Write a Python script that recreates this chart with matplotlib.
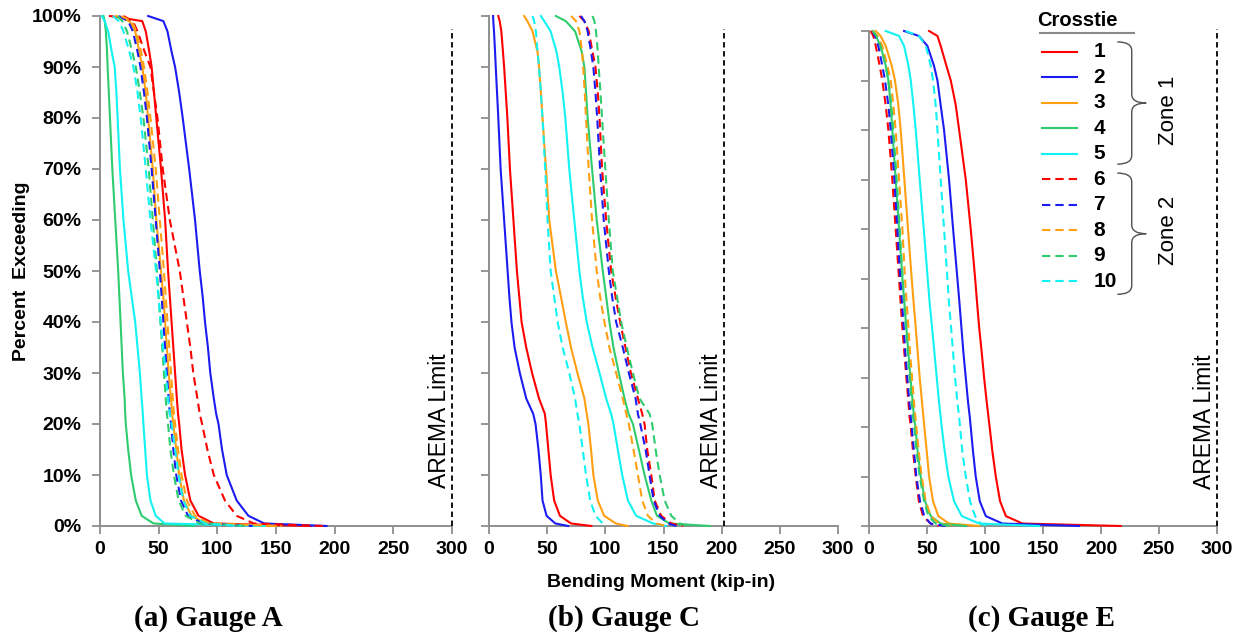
import matplotlib
matplotlib.use("Agg")
import matplotlib.pyplot as plt
from matplotlib.path import Path
from matplotlib.patches import PathPatch

plt.rcParams['font.family'] = ['Liberation Sans', 'DejaVu Sans']

# Percent of loading events exceeding a given bending moment
pct_levels = [100, 99, 97, 93, 90, 85, 80, 70, 60, 50, 45, 40, 35, 30, 25,
              22, 20, 15, 10, 5, 2, 0.5, 0]

crossties = ['1', '2', '3', '4', '5', '6', '7', '8', '9', '10']
tie_colors = ['#FF0000', '#1C1CF2', '#FF9F12', '#2ECC6E', '#12F2F2',
              '#FF0000', '#1C1CF2', '#FF9F12', '#2ECC6E', '#12F2F2']
tie_dashed = [False] * 5 + [True] * 5

# Bending moment (kip-in) at each percent level, crossties 1-10
gauge_a = [
    [8.5, 36, 39, 42, 44, 46, 48, 52, 55.5, 58, 59.5, 61, 62.5, 64, 65.5, 66.5, 67.5, 69.5, 72.5, 77, 84, 97, 180],
    [41, 54, 57.5, 61, 64, 67.5, 70.5, 76, 81, 85, 87.5, 89.5, 92, 94, 97, 99, 101, 104, 108, 116.5, 126.5, 140, 193],
    [14, 25, 30, 33.5, 36, 39, 41, 45, 48, 52, 54, 55.5, 57, 58.5, 60.5, 61.5, 62.5, 65, 67.5, 71.5, 78, 90, 150],
    [3, 4, 5, 6, 6.5, 7.5, 8.5, 10.5, 13, 15.5, 16.5, 17.5, 18.5, 19.5, 21, 21.5, 22, 24, 26.5, 30.5, 35.5, 45.5, 80],
    [1.5, 4, 7, 10, 12.5, 14, 15, 17, 20, 24, 27, 30, 32, 34, 35.5, 36.5, 37, 38.5, 40, 43, 47.5, 55, 140],
    [20, 28, 32, 38, 43, 46, 49, 53.5, 59.5, 68, 71, 74, 77, 79.5, 83, 85, 87, 91.5, 97, 106.5, 116.5, 131, 190],
    [16, 24, 28, 32, 34.5, 37.5, 40, 44, 47.5, 51, 52.5, 54, 55.5, 57, 58.5, 59.5, 60.5, 62.5, 65, 69, 75, 88, 130],
    [18, 27, 31, 35, 37.5, 40.5, 43, 47.5, 51, 54.5, 56, 57.5, 59, 60.5, 62, 63, 64, 66.5, 69.5, 74, 81, 93, 155],
    [15, 19, 23, 27.5, 30.5, 34, 37, 41.5, 45, 48.5, 50, 51.5, 53, 54.5, 56, 57, 58, 60, 63, 67, 73, 85, 125],
    [11, 16, 20, 25, 28.5, 32, 34.7, 39, 43, 47.8, 49.7, 51.7, 53.8, 56, 58, 59.5, 61, 64, 67, 71, 77, 90, 120],
]
gauge_c = [
    [8, 9.2, 10.6, 12, 13, 14.4, 15.8, 18, 21, 24, 26, 28, 32, 37, 43, 48, 49, 51, 53, 56, 61, 70.5, 88],
    [3.5, 3.7, 4.3, 5.2, 5.8, 6.9, 8, 10, 13, 16, 17.5, 19.3, 22, 26.5, 32, 38, 40, 42.5, 44.5, 46, 49.5, 57, 68],
    [30.2, 33, 37.4, 41.7, 43, 44.6, 46, 49, 51.8, 57.5, 61.8, 66, 70.5, 76, 82, 84, 85.4, 87.7, 89.7, 93.5, 99, 109, 119],
    [57.5, 66, 74, 79.7, 82, 83.4, 84.8, 88.6, 92.6, 97.8, 100.7, 103.5, 107, 111.6, 116.5, 120, 123.7, 128.8, 133.7, 139.5, 144.4, 155, 190],
    [44.6, 47.5, 53, 58, 60.4, 63.3, 65.6, 69, 73.3, 77.7, 80.5, 84, 89, 95, 100.7, 105, 107, 110.7, 114.5, 119.4, 126.5, 141, 152],
    [77.7, 82, 85.7, 89, 91.5, 93.5, 95, 97.2, 100.7, 105, 108.7, 112.7, 117.3, 122, 128, 131.7, 133.7, 136, 139.5, 142.4, 148, 156.7, 166.8],
    [79, 82, 84.8, 87.7, 89.7, 91.5, 93, 95.5, 98.6, 103, 105.8, 109.3, 115, 120.2, 126, 128, 130, 134.6, 138, 141.5, 146.7, 153.9, 161],
    [70.5, 74.8, 77.7, 80, 81, 82.3, 83.4, 85.7, 88.6, 92.6, 95.5, 99.2, 103.5, 109.3, 115, 118, 120.2, 124.2, 128, 131.7, 136.6, 143.8, 152],
    [89, 90.6, 92, 93.5, 94.3, 95.8, 97.2, 100, 103, 106.4, 110, 113.6, 118.5, 123.7, 129.4, 138, 140.3, 143.2, 146.7, 151, 156.7, 164, 172.6],
    [37.4, 38.8, 40.3, 41.7, 43, 44.6, 46, 48.3, 50.3, 53, 56, 59, 63.3, 69, 74, 76, 77.7, 80.5, 83.4, 87, 91.5, 97.8, 100.7],
]
gauge_e = [
    [51.8, 59, 61.8, 66.7, 70.5, 74.8, 77.7, 83.4, 87.7, 91.5, 93.2, 95, 97.2, 99.2, 101.5, 103, 104, 106.4, 109.3, 113, 118, 132.3, 217],
    [30.2, 43, 50.3, 56, 59, 61.8, 64.7, 69, 72.5, 76.2, 78, 79.7, 81.4, 83.4, 85.4, 86.9, 87.7, 89.7, 92, 95.5, 100.7, 115, 181],
    [5.8, 10, 14.4, 19.6, 22.4, 25.3, 27.3, 30.5, 33.6, 36.8, 38.5, 40.3, 42, 43.7, 45.7, 46.9, 47.7, 49.8, 51.8, 55.2, 59.8, 69, 95],
    [2.9, 5.8, 10, 14.4, 16.7, 18.7, 20.1, 23, 25.9, 28.8, 30.5, 32.2, 34, 35.7, 37.7, 38.8, 40, 42, 44.6, 48.3, 53.2, 61.8, 83.4],
    [14.4, 25.9, 30.2, 34, 36, 38.3, 40.3, 43.7, 47.2, 50.6, 52.3, 54.4, 56.4, 58.4, 60.4, 61.8, 62.7, 65.3, 68.4, 73.3, 80, 95, 146.7],
    [1.4, 3.7, 5.8, 9.2, 11.5, 14.4, 16.7, 20.1, 23, 25.9, 27.3, 28.8, 30.5, 32.2, 34, 35, 36, 38, 40.3, 43, 46.6, 53, 60],
    [2.9, 5.2, 8, 11.5, 13.8, 16.7, 18.7, 21.9, 24.4, 27, 28.5, 30, 31.3, 33, 34.8, 36, 36.8, 38.8, 40.8, 44, 47.7, 53, 66],
    [2.9, 7.2, 11.5, 15.8, 18.7, 21, 23, 25.9, 28.8, 31, 32.5, 34, 35.4, 37.1, 38.8, 40, 40.8, 42.9, 45.4, 48.9, 53.2, 60.4, 74.8],
    [3.5, 6.3, 10, 14.4, 16.7, 19.3, 21, 23.9, 26.5, 29, 30.5, 32, 33.4, 35, 36.8, 38, 39, 41, 43.7, 47.5, 51.2, 57.5, 72],
    [31.6, 43, 49, 53.2, 55.2, 57.5, 59, 61.8, 64.7, 67.6, 69, 70.8, 72.5, 74.2, 76.2, 77.7, 78.5, 80.5, 83.4, 87.1, 91.5, 96.3, 103.5],
]

gauges = [gauge_a, gauge_c, gauge_e]
captions = ['(a) Gauge A', '(b) Gauge C', '(c) Gauge E']
arema_limits = [300, 202, 300]
x_ticks = [0, 50, 100, 150, 200, 250, 300]
y_ticks = [0, 10, 20, 30, 40, 50, 60, 70, 80, 90, 100]

W, H = 1244, 632
fig = plt.figure(figsize=(W / 100, H / 100), dpi=100)

# axes boxes in pixels: left, bottom-from-top, width, height
boxes = [(100, 526, 352, 510), (489, 526, 349, 510), (869, 526, 348, 495)]
caption_x = [208, 624, 1042]
axes = [fig.add_axes([l / W, (H - b) / H, w / W, h / H]) for l, b, w, h in boxes]

dash = (0, (4, 2.4))
axis_gray = '#8F8F8F'

for i, (ax, data) in enumerate(zip(axes, gauges)):
    for k in range(len(crossties)):
        ax.plot(data[k], pct_levels, color=tie_colors[k], lw=1.5,
                ls=dash if tie_dashed[k] else '-', clip_on=False,
                solid_joinstyle='round', zorder=3 + k * 0.01)
    ax.set_xlim(0, 300)
    ax.set_ylim(0, 100)
    ax.set_xticks(x_ticks)
    ax.set_yticks(y_ticks)
    for s in ('top', 'right'):
        ax.spines[s].set_visible(False)
    for s in ('left', 'bottom'):
        ax.spines[s].set_color(axis_gray)
        ax.spines[s].set_linewidth(1.4)
        ax.spines[s].set_zorder(1)
    ax.tick_params(axis='both', direction='out', length=5.8, width=1.3,
                   color=axis_gray, labelsize=14)
    ax.tick_params(axis='x', pad=5)
    ax.tick_params(axis='y', pad=7.5)
    for lab in ax.get_xticklabels():
        lab.set_fontweight('bold')
    if i == 0:
        ax.set_yticklabels([f'{v}%' for v in y_ticks], fontweight='bold')
    else:
        ax.set_yticklabels([])

    # AREMA design limit
    lim = arema_limits[i]
    top_px = 29
    l, b, w, h = boxes[i]
    top_pct = (b - top_px) / h * 100
    ax.plot([lim, lim], [0, top_pct], color='black', lw=1.3,
            ls=(0, (3, 2)), clip_on=False, zorder=2)
    ax.text(lim - 10.5, 7.5, 'AREMA Limit', rotation=90, ha='center',
            va='bottom', fontsize=16.5, color='black')

    fig.text(caption_x[i] / W, 1 - 626 / H, captions[i],
             family=['Liberation Serif', 'DejaVu Serif'], fontweight='bold',
             fontsize=21, ha='center', va='baseline')

fig.text(22 / W, 1 - 271 / H, 'Percent  Exceeding', rotation=90,
         fontweight='bold', fontsize=14, ha='center', va='center')
fig.text(661 / W, 1 - 587 / H, 'Bending Moment (kip-in)',
         fontweight='bold', fontsize=14, ha='center', va='baseline')

# Legend with zone braces in the Gauge E panel
axc = axes[2]
axc.text(180, 102.2, 'Crosstie', fontweight='bold', fontsize=14.5,
         ha='center', va='center')
axc.plot([147.4, 228.4], [99.6, 99.6], color='#8A8A8A', lw=1.5,
         clip_on=False)
row0, step = 95.8, 5.15
for k, name in enumerate(crossties):
    y = row0 - k * step
    axc.plot([149, 179.3], [y, y], color=tie_colors[k], lw=1.5,
             ls=dash if tie_dashed[k] else '-', clip_on=False)
    axc.text(193.5, y, name, fontweight='bold', fontsize=15,
             ha='left', va='center')


def brace(ax, ytop, ybot, x0=214.0, x1=226.5, x2=239.0, r=1.8):
    ymid = (ytop + ybot) / 2
    verts = [(x0, ytop), (x1, ytop), (x1, ytop - r), (x1, ymid + r),
             (x1, ymid), (x2, ymid), (x1, ymid), (x1, ymid - r),
             (x1, ybot + r), (x1, ybot), (x0, ybot)]
    codes = [Path.MOVETO, Path.CURVE3, Path.CURVE3, Path.LINETO,
             Path.CURVE3, Path.CURVE3, Path.CURVE3, Path.CURVE3,
             Path.LINETO, Path.CURVE3, Path.CURVE3]
    ax.add_patch(PathPatch(Path(verts, codes), fc='none', ec='#505050',
                           lw=1.0, clip_on=False))


brace(axc, 97.8, 73.1)
brace(axc, 71.3, 46.8)
axc.text(258, 84.0, 'Zone 1', rotation=90, fontsize=16, ha='center',
         va='center')
axc.text(258, 59.8, 'Zone 2', rotation=90, fontsize=16, ha='center',
         va='center')

fig.savefig('out.png', dpi=100)
